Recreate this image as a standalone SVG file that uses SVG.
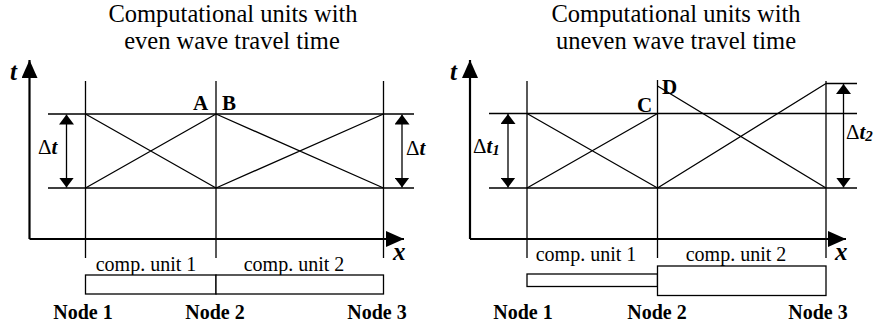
<svg xmlns="http://www.w3.org/2000/svg" width="875" height="329" viewBox="0 0 875 329">
<style>
.ln{stroke:#000;stroke-width:1.3;fill:none}
.ax{stroke:#000;stroke-width:2.2;fill:none}
.box{stroke:#000;stroke-width:1.3;fill:#fff}
.ttl{font-family:"Liberation Serif","Times New Roman",serif;font-size:24.5px;text-anchor:middle}
.cu{font-family:"Liberation Serif","Times New Roman",serif;font-size:20px;text-anchor:middle}
.nd{font-family:"Liberation Serif","Times New Roman",serif;font-size:20px;font-weight:bold;text-anchor:middle}
.pt{font-family:"Liberation Serif","Times New Roman",serif;font-size:21px;font-weight:bold}
.var{font-family:"Liberation Serif","Times New Roman",serif;font-size:25px;font-weight:bold;font-style:italic}
.dl{font-family:"Liberation Serif","Times New Roman",serif;font-size:21px}
.dl .v{font-weight:bold;font-style:italic}
.dl .s{font-size:15px}
</style>
<defs>
<marker id="ah" markerUnits="userSpaceOnUse" viewBox="0 0 10 15" markerWidth="10" markerHeight="15" refX="10" refY="7.5" orient="auto"><path d="M0,0L10,7.5L0,15z" fill="#000"/></marker>
<marker id="axh" markerUnits="userSpaceOnUse" viewBox="0 0 18 16" markerWidth="18" markerHeight="16" refX="18" refY="8" orient="auto"><path d="M0,0L18,8L0,16z" fill="#000"/></marker>
</defs>

<g id="left-panel">
<g id="left-title">
<text class="ttl" x="233" y="22">Computational units with</text>
<text class="ttl" x="232" y="49">even wave travel time</text>
</g>
<g id="left-axes">
<path class="ax" d="M29.5,239V60" marker-end="url(#axh)"/>
<path class="ax" d="M29.5,239H404" marker-end="url(#axh)"/>
<text class="var" x="10" y="80">t</text>
<text class="var" x="393" y="260">x</text>
</g>
<g id="left-grid">
<path class="ln" d="M85.5,81V258M216,81V258M383.5,81V258"/>
<path class="ln" d="M48,114H414M48,188H414"/>
<path class="ln" d="M85.5,114L216,188M85.5,188L216,114M216,114L383.5,188M216,188L383.5,114"/>
</g>
<g id="left-dt1">
<path class="ln" d="M66.5,151V114.5" marker-end="url(#ah)"/>
<path class="ln" d="M66.5,151V187.5" marker-end="url(#ah)"/>
<text class="dl" x="38" y="154">Δ<tspan class="v">t</tspan></text>
</g>
<g id="left-dt2">
<path class="ln" d="M402,151V114.5" marker-end="url(#ah)"/>
<path class="ln" d="M402,151V187.5" marker-end="url(#ah)"/>
<text class="dl" x="406" y="155">Δ<tspan class="v">t</tspan></text>
</g>
<text class="pt" x="193" y="110">A</text>
<text class="pt" x="222" y="110">B</text>
<g id="left-units">
<text class="cu" x="146" y="271">comp. unit 1</text>
<text class="cu" x="294" y="271">comp. unit 2</text>
<rect class="box" x="85.5" y="275" width="130.5" height="19"/>
<rect class="box" x="216" y="275" width="167.5" height="19"/>
</g>
<g id="node1-l"><text class="nd" x="83" y="319">Node 1</text></g>
<g id="node2-l"><text class="nd" x="215" y="319">Node 2</text></g>
<g id="node3-l"><text class="nd" x="377" y="319">Node 3</text></g>
</g>

<g id="right-panel">
<g id="right-title">
<text class="ttl" x="676" y="22">Computational units with</text>
<text class="ttl" x="676" y="49">uneven wave travel time</text>
</g>
<g id="right-axes">
<path class="ax" d="M470,239V60" marker-end="url(#axh)"/>
<path class="ax" d="M470,239H846" marker-end="url(#axh)"/>
<text class="var" x="450" y="80">t</text>
<text class="var" x="835" y="260">x</text>
</g>
<g id="right-grid">
<path class="ln" d="M527,81V258M657.5,80V258M826,81V258"/>
<path class="ln" d="M489,113.5H857M489,188H857M826,83.5H857"/>
<path class="ln" d="M527,113.5L657.5,188M527,188L657.5,113.5M657.5,86L826,188M657.5,188L826,83.5"/>
</g>
<g id="right-dt1">
<path class="ln" d="M508,151V114" marker-end="url(#ah)"/>
<path class="ln" d="M508,151V187.5" marker-end="url(#ah)"/>
<text class="dl" x="473" y="153">Δ<tspan class="v">t<tspan class="s" dy="2">1</tspan></tspan></text>
</g>
<g id="right-dt2">
<path class="ln" d="M843.5,140V84" marker-end="url(#ah)"/>
<path class="ln" d="M843.5,140V187.5" marker-end="url(#ah)"/>
<text class="dl" x="846" y="139">Δ<tspan class="v">t<tspan class="s" dy="2">2</tspan></tspan></text>
</g>
<text class="pt" x="637" y="112">C</text>
<text class="pt" x="662" y="94">D</text>
<g id="right-units">
<text class="cu" x="586" y="261">comp. unit 1</text>
<text class="cu" x="736" y="261">comp. unit 2</text>
<rect class="box" x="527" y="274" width="130.5" height="12.5"/>
<rect class="box" x="657.5" y="266" width="168.5" height="29.5"/>
</g>
<g id="node1-r"><text class="nd" x="523" y="319">Node 1</text></g>
<g id="node2-r"><text class="nd" x="657" y="319">Node 2</text></g>
<g id="node3-r"><text class="nd" x="818" y="319">Node 3</text></g>
</g>
</svg>
